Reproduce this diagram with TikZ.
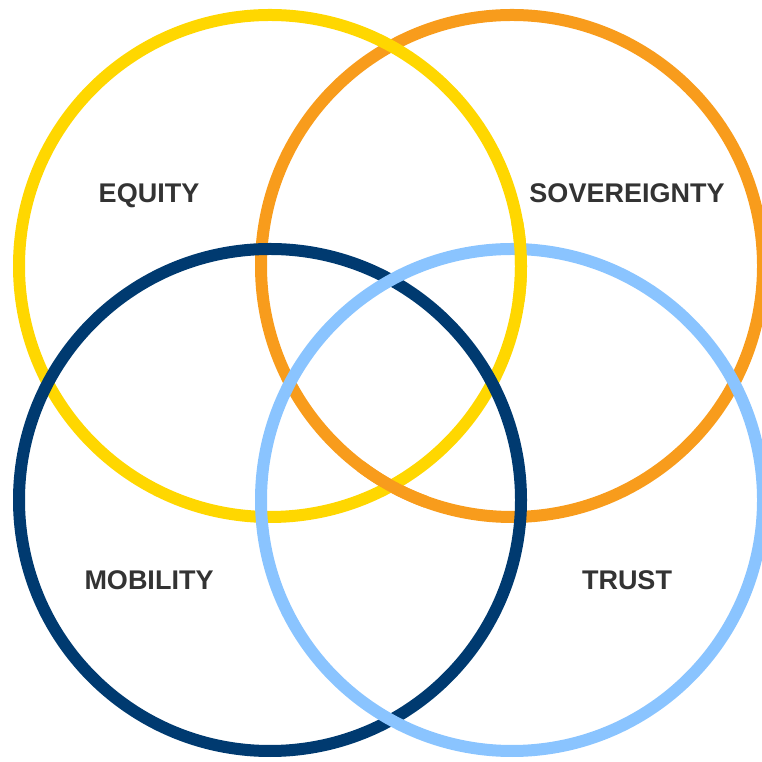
\documentclass[tikz,border=0pt]{standalone}
\usepackage{fontspec}
\setmainfont{Liberation Sans}
\definecolor{ringyellow}{RGB}{255,215,0}
\definecolor{ringorange}{RGB}{248,156,28}
\definecolor{ringnavy}{RGB}{0,58,112}
\definecolor{ringsky}{RGB}{138,196,255}
\definecolor{labelgray}{RGB}{51,51,51}
\begin{document}
\begin{tikzpicture}[x=1pt, y=1pt, ring/.style={line width=12pt}, lbl/.style={anchor=base, inner sep=0pt, text=labelgray, font=\fontsize{27}{30}\selectfont\bfseries}]
	\useasboundingbox (0,0) rectangle (762,762);
	\draw[ring, ringorange] (512,496) circle[radius=251];
	\draw[ring, ringyellow] (270,496) circle[radius=251];
	\draw[ring, ringnavy] (270,262) circle[radius=251];
	\draw[ring, ringsky] (512,262) circle[radius=251];
	% woven crossings
	\draw[ring, ringorange] (512,496) ++(233:251) arc[start angle=233, end angle=250, radius=251];
	\draw[ring, ringyellow] (270,496) ++(-8:251) arc[start angle=-8, end angle=10, radius=251];
	\node[lbl] (eq) at (149,559) {EQUITY};
	\node[lbl] (sov) at (627,559) {SOVEREIGNTY};
	\node[lbl] (mob) at (149,172) {MOBILITY};
	\node[lbl] (tru) at (627,172) {TRUST};
\end{tikzpicture}
\end{document}
